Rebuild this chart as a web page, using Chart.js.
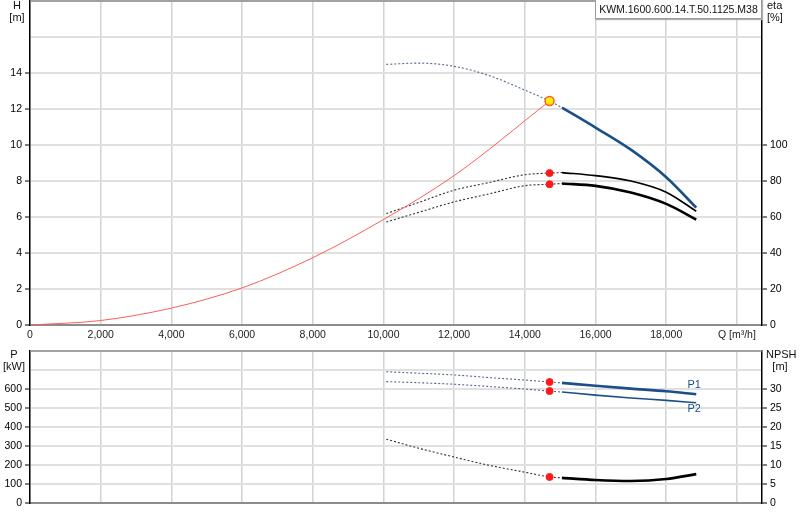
<!DOCTYPE html>
<html>
<head>
<meta charset="utf-8">
<script src="https://cdn.jsdelivr.net/npm/chart.js@4.4.1/dist/chart.umd.min.js"></script>
<style>
	body { margin: 0; background: #fff; }
	#wrap { position: relative; width: 800px; height: 520px; overflow: hidden; }
	canvas { position: absolute; left: 0; }
	#top { top: 0; }
	#bottom { top: 345px; }
	#title {
		position: absolute; left: 595px; top: -1px; width: 165px; height: 18px;
		border: 1px solid #9a9a9a; box-shadow: 1px 1px 1px #b0b0b0; background: #fff;
		font: 10.5px "Liberation Sans", Arial, sans-serif; color: #111;
		line-height: 19px; text-align: center; z-index: 2;
	}
</style>
</head>
<body>
<div id="wrap">
	<canvas id="top" width="800" height="345"></canvas>
	<canvas id="bottom" width="800" height="175"></canvas>
	<div id="title">KWM.1600.600.14.T.50.1125.M38</div>
</div>
<script>
// flow values, the dashed part runs up to where the solid part starts
const qDash = [10080, 11000, 12000, 13000, 14000, 14700, 15050]
const qSolid = [15050, 16000, 17000, 18000, 18850]

const headDash = [14.48, 14.55, 14.37, 13.85, 13.05, 12.44, 12.08]
const headSolid = [12.08, 10.97, 9.74, 8.21, 6.52]
const eta1Dash = [61.9, 68.1, 74.9, 79.2, 83.5, 84.4, 84.7]
const eta1Solid = [84.7, 83.0, 80.0, 73.8, 63.2]
const eta2Dash = [57.2, 62.6, 68.4, 72.9, 77.4, 78.2, 78.6]
const eta2Solid = [78.6, 77.3, 73.6, 67.3, 58.6]

const p1Dash = [691, 683, 674, 660, 647, 637, 632]
const p1Solid = [632, 617, 602, 588, 572]
const p2Dash = [639, 633, 625, 613, 600, 589, 584]
const p2Solid = [584, 568, 553, 540, 528]
const npshDash = [16.8, 14.4, 12.1, 9.9, 8.1, 6.86, 6.6]
const npshSolid = [6.6, 6.05, 5.8, 6.3, 7.6]

const systemQ = [0, 2000, 4000, 6000, 8000, 10000, 12000, 14700]
const systemH = [0, 0.25, 0.94, 2.06, 3.74, 5.86, 8.3, 12.44]

const dutyQ = 14700
const dutyH = 12.44
const dutyEta1 = 84.4
const dutyEta2 = 78.2
const dutyP1 = 637
const dutyP2 = 589
const dutyNpsh = 6.86

const qTicks = [0, 2000, 4000, 6000, 8000, 10000, 12000, 14000, 16000, 18000, 20000]

Chart.defaults.font.family = '"Liberation Sans", Arial, sans-serif'
Chart.defaults.font.size = 10.5
Chart.defaults.color = '#111'

const BLUE = '#1c4f8a'
const DASH_BLUE = '#56698c'

const pts = (xs, ys) => xs.map((x, i) => ({x, y: ys[i]}))

function dashed(data, axis, color) {
	return {data, yAxisID: axis, borderColor: color, borderWidth: 1.1, borderDash: [2, 2],
		pointRadius: 0, cubicInterpolationMode: 'monotone', fill: false}
}
function solid(data, axis, color, w) {
	return {data, yAxisID: axis, borderColor: color, borderWidth: w,
		pointRadius: 0, cubicInterpolationMode: 'monotone', fill: false}
}
// markers go on top of the curves (lower order is drawn last)
function dot(x, y, axis, fill, border, r, bw) {
	return {data: [{x, y}], yAxisID: axis, showLine: false, pointRadius: r, order: -1,
		pointBackgroundColor: fill, pointBorderColor: border, pointBorderWidth: bw || 1}
}

// labels at the axis tops and the top frame line
const decor = {
	id: 'decor',
	afterDraw(chart, args, opts) {
		const {ctx, chartArea} = chart
		ctx.save()
		ctx.strokeStyle = '#8c8c8c'
		ctx.lineWidth = 1.5
		ctx.beginPath()
		ctx.moveTo(chartArea.left, chartArea.top)
		ctx.lineTo(chartArea.right, chartArea.top)
		ctx.stroke()
		ctx.fillStyle = '#111'
		ctx.font = '11px "Liberation Sans", Arial, sans-serif'
		ctx.textBaseline = 'middle'
		for (let t of opts.texts) {
			ctx.textAlign = t.align || 'center'
			ctx.fillText(t.text, t.x, t.y)
		}
		if (opts.curveLabels) {
			const xs = chart.scales.x, ys = chart.scales.yP
			ctx.fillStyle = BLUE
			ctx.textAlign = 'center'
			let last = qSolid.length - 1
			ctx.fillText('P1', xs.getPixelForValue(qSolid[last]) - 2, ys.getPixelForValue(p1Solid[last]) - 9)
			ctx.fillText('P2', xs.getPixelForValue(qSolid[last]) - 2, ys.getPixelForValue(p2Solid[last]) + 6)
		}
		ctx.restore()
	}
}

function xScale(showLabels, height) {
	return {
		type: 'linear', min: 0, max: 20710,
		afterBuildTicks: s => { s.ticks = qTicks.map(v => ({value: v})) },
		afterFit: s => { s.height = height; s.paddingLeft = 0; s.paddingRight = 0 },
		grid: {color: '#cfd3d3', lineWidth: 1.5, drawTicks: false},
		border: {color: '#8c8c8c', width: 2},
		ticks: {
			display: showLabels, padding: 4, maxRotation: 0, autoSkip: false, color: '#222',
			callback: v => v === 20000 ? 'Q [m³/h]' : v.toLocaleString('en-US')
		}
	}
}
function yScale(pos, max, step, maxLabel, width, gridOn) {
	return {
		position: pos, min: 0, max,
		afterFit: s => { s.width = width; s.paddingTop = 0; s.paddingBottom = 0 },
		grid: {
			drawOnChartArea: gridOn, color: '#e0e0e0', lineWidth: 2, tickLength: 5,
			tickColor: c => c.tick && c.tick.value > maxLabel ? 'rgba(0,0,0,0)' : '#000',
			tickWidth: 1
		},
		border: {color: '#000', width: 1.5},
		ticks: {stepSize: step, padding: 3, color: '#000',
			callback: v => v > maxLabel ? '' : v}
	}
}

const common = {
	responsive: false, animation: false, events: [],
	plugins: {legend: {display: false}, tooltip: {enabled: false}}
}

new Chart(document.getElementById('top'), {
	type: 'line',
	data: {
		datasets: [
			solid(pts(systemQ, systemH), 'yH', '#ff5c5c', 1),
			dashed(pts(qDash, headDash), 'yH', DASH_BLUE),
			solid(pts(qSolid, headSolid), 'yH', BLUE, 2.6),
			dashed(pts(qDash, eta1Dash), 'yEta', '#333'),
			solid(pts(qSolid, eta1Solid), 'yEta', '#000', 1.7),
			dashed(pts(qDash, eta2Dash), 'yEta', '#333'),
			solid(pts(qSolid, eta2Solid), 'yEta', '#000', 2.6),
			dot(dutyQ, dutyEta1, 'yEta', '#ff1a1a', '#ff1a1a', 3.5),
			dot(dutyQ, dutyEta2, 'yEta', '#ff1a1a', '#ff1a1a', 3.5),
			dot(dutyQ, dutyH, 'yH', '#ffee00', '#ff5a28', 4.5, 1.5),
		]
	},
	options: {
		...common,
		layout: {autoPadding: false, padding: {top: 1, left: 0, right: 0, bottom: 0}},
		scales: {
			x: xScale(true, 20),
			yH: yScale('left', 18, 2, 14, 30, true),
			yEta: yScale('right', 180, 20, 100, 38, false)
		},
		plugins: {
			...common.plugins,
			decor: {texts: [
				{text: 'H', x: 17, y: 6},
				{text: '[m]', x: 17, y: 18},
				{text: 'eta', x: 767, y: 6, align: 'left'},
				{text: '[%]', x: 767, y: 18, align: 'left'}
			]}
		}
	},
	plugins: [decor]
})

new Chart(document.getElementById('bottom'), {
	type: 'line',
	data: {
		datasets: [
			dashed(pts(qDash, p1Dash), 'yP', DASH_BLUE),
			solid(pts(qSolid, p1Solid), 'yP', BLUE, 2.6),
			dashed(pts(qDash, p2Dash), 'yP', DASH_BLUE),
			solid(pts(qSolid, p2Solid), 'yP', BLUE, 1.6),
			dashed(pts(qDash, npshDash), 'yN', '#333'),
			solid(pts(qSolid, npshSolid), 'yN', '#000', 2.6),
			dot(dutyQ, dutyP1, 'yP', '#ff1a1a', '#ff1a1a', 3.5),
			dot(dutyQ, dutyP2, 'yP', '#ff1a1a', '#ff1a1a', 3.5),
			dot(dutyQ, dutyNpsh, 'yN', '#ff1a1a', '#ff1a1a', 3.5),
		]
	},
	options: {
		...common,
		layout: {autoPadding: false, padding: {top: 6, left: 0, right: 0, bottom: 0}},
		scales: {
			x: xScale(false, 17),
			yP: yScale('left', 800, 100, 600, 30, true),
			yN: yScale('right', 40, 5, 30, 38, false)
		},
		plugins: {
			...common.plugins,
			decor: {curveLabels: true, texts: [
				{text: 'P', x: 14, y: 10},
				{text: '[kW]', x: 14, y: 22},
				{text: 'NPSH', x: 766, y: 10, align: 'left'},
				{text: '[m]', x: 780, y: 22}
			]}
		}
	},
	plugins: [decor]
})
</script>
</body>
</html>
